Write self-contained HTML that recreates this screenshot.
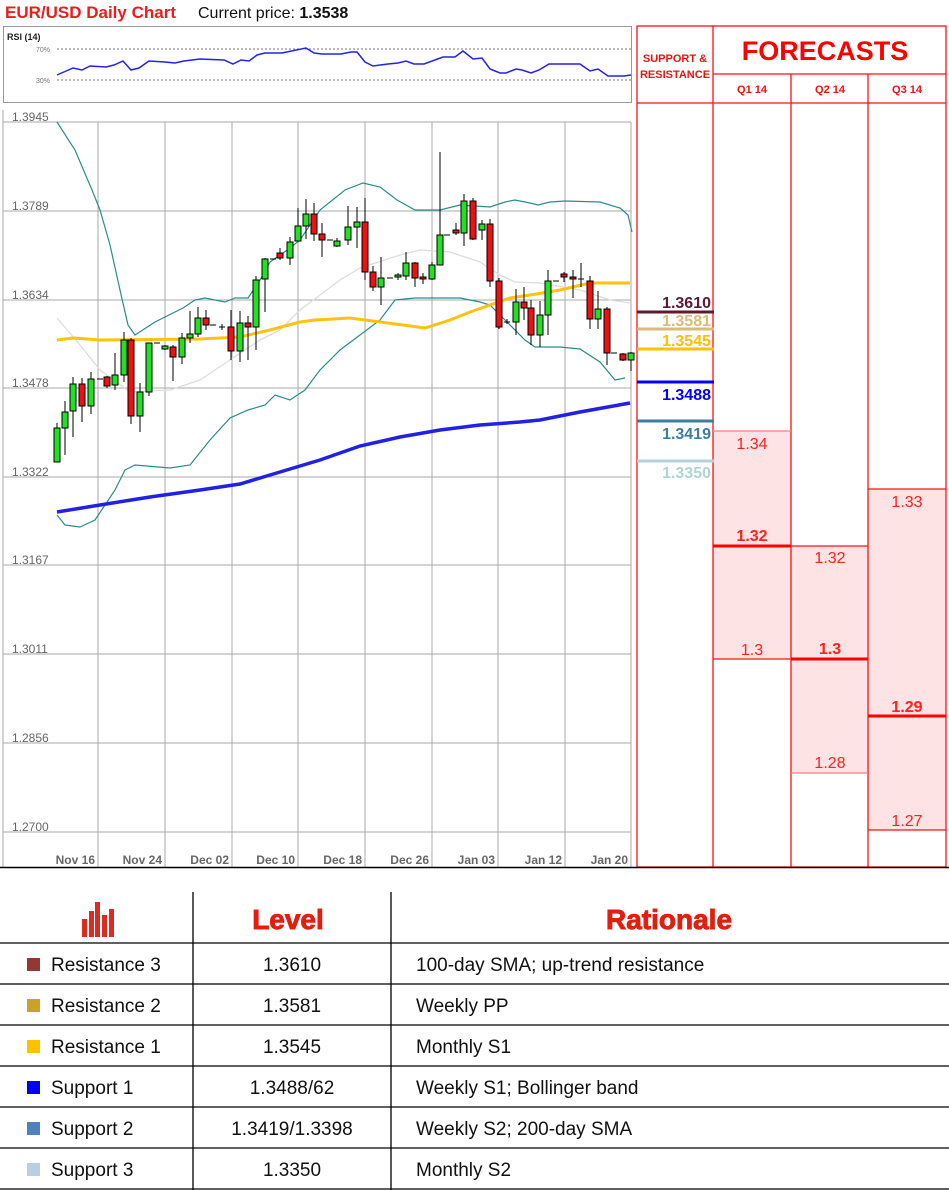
<!DOCTYPE html>
<html><head><meta charset="utf-8"><style>
body{margin:0;background:#fff;width:949px;height:1190px;overflow:hidden;font-family:"Liberation Sans",sans-serif}
svg{position:absolute;left:0;top:0}
</style></head><body>
<svg width="949" height="1190" viewBox="0 0 949 1190" xmlns="http://www.w3.org/2000/svg" font-family="Liberation Sans, sans-serif">
<text x="5" y="18" font-size="17" font-weight="bold" fill="#ee1c1c">EUR/USD Daily Chart</text>
<text x="198" y="18" font-size="16" fill="#111">Current price: <tspan font-weight="bold">1.3538</tspan></text>
<!-- RSI -->
<rect x="3.5" y="26.5" width="628" height="76" fill="#fff" stroke="#999"/>
<text x="7" y="40" font-size="9" font-weight="bold" fill="#222">RSI (14)</text>
<line x1="57" y1="49" x2="631" y2="49" stroke="#777" stroke-dasharray="2,2"/>
<line x1="57" y1="80" x2="631" y2="80" stroke="#777" stroke-dasharray="2,2"/>
<text x="36" y="52" font-size="7" fill="#777">70%</text>
<text x="36" y="83" font-size="7" fill="#777">30%</text>
<polyline fill="none" stroke="#2222ee" stroke-width="1.5" points="57,75 73,68 82,70 90,66 106,67 114,65 123,61 131,70 139,68 149,61 165,62 175,63 184,61 200,59 224,60 233,64 241,60 249,61 257,55 265,53 282,53 306,48 314,53 322,54 341,54 351,52 357,52 365,62 373,66 388,64 398,63 406,61 414,64 424,64 443,57 455,57 463,51 473,59 482,58 490,69 500,73 506,73 516,69 522,70 531,73 539,70 549,64 580,64 590,71 598,69 608,76 624,76 631,75"/>
<!-- main chart grid -->
<g stroke="#aaa" stroke-width="1">
<line x1="3" y1="122" x2="631" y2="122"/><line x1="3" y1="211" x2="631" y2="211"/><line x1="3" y1="300" x2="631" y2="300"/><line x1="3" y1="388" x2="631" y2="388"/><line x1="3" y1="477" x2="631" y2="477"/><line x1="3" y1="565" x2="631" y2="565"/><line x1="3" y1="654" x2="631" y2="654"/><line x1="3" y1="743" x2="631" y2="743"/><line x1="3" y1="832" x2="631" y2="832"/>
<line x1="98" y1="122" x2="98" y2="867"/><line x1="165" y1="122" x2="165" y2="867"/><line x1="232" y1="122" x2="232" y2="867"/><line x1="298" y1="122" x2="298" y2="867"/><line x1="365" y1="122" x2="365" y2="867"/><line x1="432" y1="122" x2="432" y2="867"/><line x1="498" y1="122" x2="498" y2="867"/><line x1="565" y1="122" x2="565" y2="867"/><line x1="631" y1="122" x2="631" y2="867"/>
<line x1="3" y1="110" x2="3" y2="867"/>
</g>
<g font-size="12" fill="#666">
<text x="12" y="121">1.3945</text><text x="12" y="210">1.3789</text><text x="12" y="299">1.3634</text><text x="12" y="387">1.3478</text><text x="12" y="476">1.3322</text><text x="12" y="564">1.3167</text><text x="12" y="653">1.3011</text><text x="12" y="742">1.2856</text><text x="12" y="831">1.2700</text>
</g>
<g font-size="12" font-weight="bold" fill="#666" text-anchor="end">
<text x="95" y="864">Nov 16</text><text x="162" y="864">Nov 24</text><text x="229" y="864">Dec 02</text><text x="295" y="864">Dec 10</text><text x="362" y="864">Dec 18</text><text x="429" y="864">Dec 26</text><text x="495" y="864">Jan 03</text><text x="562" y="864">Jan 12</text><text x="628" y="864">Jan 20</text>
</g>
<!-- indicators -->
<polyline fill="none" stroke="#ddd" stroke-width="1.3" points="57,318 80,345 100,370 130,392 170,390 200,380 230,360 260,340 280,330 300,310 340,280 360,268 400,255 420,250 450,252 480,262 500,275 515,282 540,283 580,290 610,300 630,303"/>
<polyline fill="none" stroke="#2a8c8c" stroke-width="1.2" points="57,122 75,150 92,190 100,210 110,245 120,290 128,325 135,335 155,322 183,308 195,300 205,298 225,302 235,298 248,298 260,280 270,262 290,248 300,240 310,225 320,210 345,190 363,183 380,187 397,200 415,210 440,210 460,205 490,207 505,202 515,200 530,203 538,205 550,202 565,201 600,202 620,208 628,215 632,232"/>
<polyline fill="none" stroke="#2a8c8c" stroke-width="1.2" points="57,515 65,525 80,527 95,520 105,505 115,490 125,470 135,465 170,468 190,465 210,440 230,418 248,410 265,405 275,395 290,400 305,390 320,370 330,360 340,350 360,335 380,320 395,300 415,298 460,298 480,302 490,305 505,320 525,340 535,347 560,347 580,349 600,362 615,380 625,378"/>
<polyline fill="none" stroke="#ffc20e" stroke-width="3" points="57,340 73,338 100,340 200,339 240,337 270,330 300,322 315,320 350,318 380,322 425,328 450,320 470,312 490,305 510,298 530,295 560,290 590,283 630,283"/>
<polyline fill="none" stroke="#2020e8" stroke-width="3.5" points="57,512 100,505 150,497 200,490 240,484 280,472 320,460 360,446 400,437 440,430 480,425 520,422 540,420 580,412 630,403"/>
<!-- candles -->
<g stroke="#000" stroke-width="1">
<line x1="57" y1="423" x2="57" y2="462"/><rect x="54" y="428" width="6" height="34" fill="#22e022"/>
<line x1="65" y1="401" x2="65" y2="455"/><rect x="62" y="412" width="6" height="16" fill="#22e022"/>
<line x1="73" y1="377" x2="73" y2="437"/><rect x="70" y="384" width="6" height="27" fill="#22e022"/>
<line x1="82" y1="378" x2="82" y2="422"/><rect x="79" y="384" width="6" height="22" fill="#ee1111"/>
<line x1="91" y1="372" x2="91" y2="414"/><rect x="88" y="379" width="6" height="27" fill="#22e022"/>
<line x1="97" y1="379" x2="103" y2="379"/>
<line x1="107" y1="376" x2="107" y2="388"/><rect x="104" y="377" width="6" height="9" fill="#ee1111"/>
<line x1="115" y1="353" x2="115" y2="390"/><rect x="112" y="375" width="6" height="10" fill="#22e022"/>
<line x1="124" y1="332" x2="124" y2="382"/><rect x="121" y="340" width="6" height="35" fill="#22e022"/>
<line x1="131" y1="338" x2="131" y2="424"/><rect x="128" y="340" width="6" height="76" fill="#ee1111"/>
<line x1="140" y1="383" x2="140" y2="432"/><rect x="137" y="392" width="6" height="24" fill="#22e022"/>
<line x1="149" y1="343" x2="149" y2="396"/><rect x="146" y="343" width="6" height="49" fill="#22e022"/>
<line x1="154" y1="343" x2="160" y2="343"/>
<line x1="165" y1="345" x2="165" y2="350"/><rect x="162" y="346" width="6" height="3" fill="#22e022"/>
<line x1="173" y1="345" x2="173" y2="381"/><rect x="170" y="347" width="6" height="10" fill="#ee1111"/>
<line x1="182" y1="333" x2="182" y2="364"/><rect x="179" y="338" width="6" height="19" fill="#22e022"/>
<line x1="190" y1="311" x2="190" y2="343"/><rect x="187" y="334" width="6" height="4" fill="#22e022"/>
<line x1="198" y1="307" x2="198" y2="337"/><rect x="195" y="318" width="6" height="16" fill="#22e022"/>
<line x1="206" y1="310" x2="206" y2="330"/><rect x="203" y="318" width="6" height="7" fill="#ee1111"/>
<line x1="210" y1="325" x2="216" y2="325"/>
<line x1="222" y1="324" x2="222" y2="330"/><line x1="219" y1="327" x2="225" y2="327"/>
<line x1="231" y1="310" x2="231" y2="360"/><rect x="228" y="327" width="6" height="24" fill="#ee1111"/>
<line x1="240" y1="311" x2="240" y2="362"/><rect x="237" y="323" width="6" height="28" fill="#22e022"/>
<line x1="248" y1="316" x2="248" y2="360"/><rect x="245" y="323" width="6" height="4" fill="#ee1111"/>
<line x1="256" y1="276" x2="256" y2="350"/><rect x="253" y="280" width="6" height="47" fill="#22e022"/>
<line x1="265" y1="258" x2="265" y2="312"/><rect x="262" y="259" width="6" height="20" fill="#22e022"/>
<line x1="270" y1="259" x2="276" y2="259"/>
<line x1="280" y1="248" x2="280" y2="260"/><rect x="277" y="253" width="6" height="5" fill="#ee1111"/>
<line x1="290" y1="237" x2="290" y2="265"/><rect x="287" y="242" width="6" height="16" fill="#22e022"/>
<line x1="298" y1="208" x2="298" y2="241"/><rect x="295" y="226" width="6" height="15" fill="#22e022"/>
<line x1="306" y1="199" x2="306" y2="239"/><rect x="303" y="214" width="6" height="12" fill="#22e022"/>
<line x1="314" y1="203" x2="314" y2="241"/><rect x="311" y="214" width="6" height="20" fill="#ee1111"/>
<line x1="322" y1="223" x2="322" y2="257"/><rect x="319" y="234" width="6" height="6" fill="#ee1111"/>
<line x1="327" y1="240" x2="333" y2="240"/>
<line x1="337" y1="238" x2="337" y2="247"/><rect x="334" y="241" width="6" height="5" fill="#22e022"/>
<line x1="348" y1="206" x2="348" y2="245"/><rect x="345" y="227" width="6" height="13" fill="#22e022"/>
<line x1="357" y1="207" x2="357" y2="248"/><rect x="354" y="222" width="6" height="5" fill="#22e022"/>
<line x1="365" y1="198" x2="365" y2="280"/><rect x="362" y="222" width="6" height="50" fill="#ee1111"/>
<line x1="373" y1="266" x2="373" y2="291"/><rect x="370" y="272" width="6" height="15" fill="#ee1111"/>
<line x1="381" y1="257" x2="381" y2="305"/><rect x="378" y="278" width="6" height="9" fill="#22e022"/>
<line x1="387" y1="278" x2="393" y2="278"/>
<line x1="398" y1="273" x2="398" y2="280"/><rect x="395" y="275" width="6" height="2" fill="#22e022"/>
<line x1="406" y1="252" x2="406" y2="280"/><rect x="403" y="263" width="6" height="13" fill="#22e022"/>
<line x1="415" y1="262" x2="415" y2="287"/><rect x="412" y="263" width="6" height="15" fill="#ee1111"/>
<line x1="423" y1="273" x2="423" y2="284"/><rect x="420" y="277" width="6" height="2" fill="#ee1111"/>
<line x1="432" y1="262" x2="432" y2="280"/><rect x="429" y="265" width="6" height="14" fill="#22e022"/>
<line x1="440" y1="152" x2="440" y2="265"/><rect x="437" y="235" width="6" height="30" fill="#22e022"/>
<line x1="444" y1="235" x2="450" y2="235"/>
<line x1="456" y1="223" x2="456" y2="235"/><rect x="453" y="230" width="6" height="3" fill="#ee1111"/>
<line x1="464" y1="194" x2="464" y2="246"/><rect x="461" y="201" width="6" height="32" fill="#22e022"/>
<line x1="473" y1="198" x2="473" y2="240"/><rect x="470" y="201" width="6" height="38" fill="#ee1111"/>
<line x1="482" y1="220" x2="482" y2="240"/><rect x="479" y="224" width="6" height="6" fill="#22e022"/>
<line x1="490" y1="219" x2="490" y2="287"/><rect x="487" y="224" width="6" height="57" fill="#ee1111"/>
<line x1="499" y1="278" x2="499" y2="329"/><rect x="496" y="281" width="6" height="46" fill="#ee1111"/>
<line x1="507" y1="319" x2="507" y2="324"/><line x1="504" y1="322" x2="510" y2="322"/>
<line x1="516" y1="289" x2="516" y2="335"/><rect x="513" y="302" width="6" height="20" fill="#22e022"/>
<line x1="524" y1="287" x2="524" y2="320"/><rect x="521" y="302" width="6" height="6" fill="#ee1111"/>
<line x1="531" y1="300" x2="531" y2="345"/><rect x="528" y="308" width="6" height="27" fill="#ee1111"/>
<line x1="540" y1="301" x2="540" y2="347"/><rect x="537" y="315" width="6" height="20" fill="#22e022"/>
<line x1="548" y1="270" x2="548" y2="335"/><rect x="545" y="281" width="6" height="34" fill="#22e022"/>
<line x1="553" y1="281" x2="559" y2="281"/>
<line x1="564" y1="272" x2="564" y2="282"/><rect x="561" y="274" width="6" height="3" fill="#ee1111"/>
<line x1="573" y1="270" x2="573" y2="298"/><rect x="570" y="277" width="6" height="2" fill="#ee1111"/>
<line x1="581" y1="263" x2="581" y2="287"/><line x1="578" y1="279" x2="584" y2="279"/>
<line x1="590" y1="276" x2="590" y2="329"/><rect x="587" y="281" width="6" height="38" fill="#ee1111"/>
<line x1="598" y1="291" x2="598" y2="329"/><rect x="595" y="309" width="6" height="10" fill="#22e022"/>
<line x1="607" y1="307" x2="607" y2="365"/><rect x="604" y="309" width="6" height="44" fill="#ee1111"/>
<line x1="611" y1="353" x2="617" y2="353"/>
<line x1="623" y1="353" x2="623" y2="361"/><rect x="620" y="354" width="6" height="6" fill="#ee1111"/>
<line x1="631" y1="352" x2="631" y2="371"/><rect x="628" y="353" width="6" height="7" fill="#22e022"/>
</g>
<!-- right panel -->
<rect x="637" y="26" width="309" height="841" fill="#fff"/>
<rect x="713" y="431" width="78" height="228" fill="#fde3e4"/>
<rect x="791" y="546" width="77" height="227" fill="#fde3e4"/>
<rect x="868" y="489" width="78" height="341" fill="#fde3e4"/>
<g stroke="#ff1010" stroke-width="1.3" fill="none">
<rect x="637" y="26" width="309" height="841"/>
<line x1="713" y1="26" x2="713" y2="867"/><line x1="791" y1="74" x2="791" y2="867"/><line x1="868" y1="74" x2="868" y2="867"/>
<line x1="713" y1="74" x2="946" y2="74"/><line x1="637" y1="103" x2="946" y2="103"/>
<line x1="713" y1="431" x2="791" y2="431" stroke="#f08080"/><line x1="713" y1="659" x2="791" y2="659"/>
<line x1="791" y1="546" x2="868" y2="546"/><line x1="791" y1="773" x2="868" y2="773" stroke="#f08080"/>
<line x1="868" y1="489" x2="946" y2="489"/><line x1="868" y1="830" x2="946" y2="830"/>
</g>
<g stroke="#ff0000" stroke-width="3">
<line x1="713" y1="546" x2="791" y2="546"/><line x1="791" y1="659" x2="868" y2="659"/><line x1="868" y1="716" x2="946" y2="716"/>
</g>
<text x="675" y="62" font-size="11" font-weight="bold" fill="#ee1111" text-anchor="middle">SUPPORT &amp;</text>
<text x="675" y="78" font-size="11" font-weight="bold" fill="#ee1111" text-anchor="middle">RESISTANCE</text>
<text x="825" y="60" font-size="27" font-weight="bold" fill="#ff0000" text-anchor="middle">FORECASTS</text>
<g font-size="11" font-weight="bold" fill="#ee1111" text-anchor="middle"><text x="752" y="93">Q1 14</text><text x="830" y="93">Q2 14</text><text x="907" y="93">Q3 14</text></g>
<g font-size="16" fill="#ff2020" text-anchor="middle">
<text x="752" y="449">1.34</text><text x="752" y="541" font-weight="bold">1.32</text><text x="752" y="655">1.3</text>
<text x="830" y="563">1.32</text><text x="830" y="654" font-weight="bold">1.3</text><text x="830" y="768">1.28</text>
<text x="907" y="507">1.33</text><text x="907" y="712" font-weight="bold">1.29</text><text x="907" y="826">1.27</text>
</g>
<g stroke-width="3">
<line x1="637" y1="312" x2="714" y2="312" stroke="#5c1a33"/>
<line x1="637" y1="329" x2="714" y2="329" stroke="#dcbb7a"/>
<line x1="637" y1="349" x2="714" y2="349" stroke="#ffc000"/>
<line x1="637" y1="382" x2="714" y2="382" stroke="#0000ff"/>
<line x1="637" y1="421" x2="714" y2="421" stroke="#3a7ca5"/>
<line x1="637" y1="461" x2="714" y2="461" stroke="#b0d4d4"/>
</g>
<g font-size="16" font-weight="bold" text-anchor="end">
<text x="711" y="308" fill="#5c1a33">1.3610</text>
<text x="711" y="326" fill="#dcbb7a">1.3581</text>
<text x="711" y="346" fill="#ffc000">1.3545</text>
<text x="711" y="400" fill="#0000ff">1.3488</text>
<text x="711" y="439" fill="#3a7ca5">1.3419</text>
<text x="711" y="478" fill="#b0d4d4">1.3350</text>
</g>
<line x1="0" y1="867.5" x2="949" y2="867.5" stroke="#000" stroke-width="1.5"/>
<!-- table -->
<g stroke="#000" stroke-width="1.3">
<line x1="193" y1="892" x2="193" y2="1190"/><line x1="391" y1="892" x2="391" y2="1190"/>
<line x1="0" y1="943" x2="949" y2="943"/><line x1="0" y1="984" x2="949" y2="984"/><line x1="0" y1="1025" x2="949" y2="1025"/><line x1="0" y1="1066" x2="949" y2="1066"/><line x1="0" y1="1107" x2="949" y2="1107"/><line x1="0" y1="1148" x2="949" y2="1148"/><line x1="0" y1="1189" x2="949" y2="1189"/>
</g>
<g fill="#dd2a22">
<rect x="82" y="919" width="5" height="18"/><rect x="89" y="911" width="5" height="26"/><rect x="95" y="902" width="5" height="35"/><rect x="102" y="915" width="5" height="22"/><rect x="109" y="909" width="5" height="28"/>
</g>
<text x="288" y="929" font-size="28" font-weight="900" fill="#e0200e" text-anchor="middle" stroke="#e0200e" stroke-width="0.9">Level</text>
<text x="669" y="929" font-size="28" font-weight="900" fill="#e0200e" text-anchor="middle" stroke="#e0200e" stroke-width="0.9">Rationale</text>
<g font-size="19" fill="#111">
<rect x="27" y="958" width="13" height="13" fill="#953735"/><text x="51" y="971">Resistance 3</text>
<rect x="27" y="999" width="13" height="13" fill="#c9a227"/><text x="51" y="1012">Resistance 2</text>
<rect x="27" y="1040" width="13" height="13" fill="#ffc000"/><text x="51" y="1053">Resistance 1</text>
<rect x="27" y="1081" width="13" height="13" fill="#0000ff"/><text x="51" y="1094">Support 1</text>
<rect x="27" y="1122" width="13" height="13" fill="#4f81bd"/><text x="51" y="1135">Support 2</text>
<rect x="27" y="1163" width="13" height="13" fill="#b9cde5"/><text x="51" y="1176">Support 3</text>
</g>
<g font-size="19" fill="#111" text-anchor="middle">
<text x="292" y="971">1.3610</text><text x="292" y="1012">1.3581</text><text x="292" y="1053">1.3545</text><text x="292" y="1094">1.3488/62</text><text x="292" y="1135">1.3419/1.3398</text><text x="292" y="1176">1.3350</text>
</g>
<g font-size="19" fill="#111">
<text x="416" y="971">100-day SMA; up-trend resistance</text><text x="416" y="1012">Weekly PP</text><text x="416" y="1053">Monthly S1</text><text x="416" y="1094">Weekly S1; Bollinger band</text><text x="416" y="1135">Weekly S2; 200-day SMA</text><text x="416" y="1176">Monthly S2</text>
</g>
</svg>
</body></html>
